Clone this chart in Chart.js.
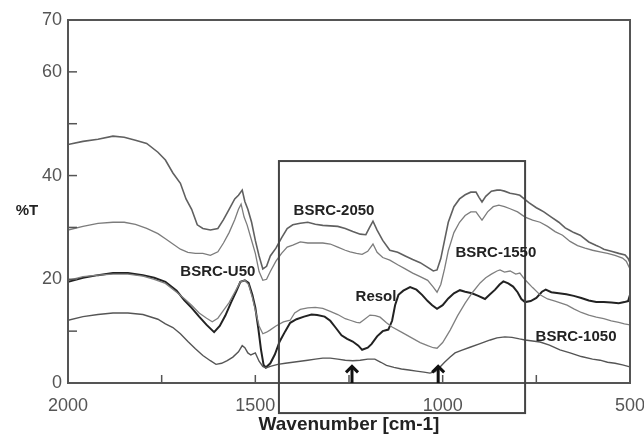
<!DOCTYPE html>
<html>
<head>
<meta charset="utf-8">
<script src="https://cdn.jsdelivr.net/npm/chart.js@4.4.1/dist/chart.umd.min.js"></script>
<style>
  html, body { margin: 0; padding: 0; background: #fff; }
  #wrap { width: 644px; height: 437px; }
</style>
</head>
<body>
<div id="wrap"><canvas id="myChart" width="644" height="437"></canvas></div>
<script>
// wavenumber (cm-1) / %T pairs
var wn2050 = [2000,1960,1920,1880,1850,1820,1790,1760,1740,1720,1700,1685,1670,1655,1640,1620,1600,1585,1570,1555,1545,1535,1528,1520,1510,1500,1490,1480,1470,1460,1445,1430,1415,1400,1380,1360,1340,1320,1300,1280,1260,1240,1220,1205,1195,1186,1175,1160,1141,1120,1100,1080,1060,1040,1025,1015,1005,995,985,970,955,940,925,911,903,895,885,870,855,847,835,820,805,794,770,750,740,730,710,690,673,660,650,633,610,590,580,570,550,530,513,505,500];
var t2050  = [46,46.6,47,47.6,47.4,46.8,46.2,44.5,43,40.5,38.5,35.5,33.5,30.5,29.8,29.5,29.8,31.5,33.5,35.5,36.2,37.2,35,33.5,31,27.5,24.5,22,22.5,24.5,26,28,29.8,30.5,30.8,31,30.6,30.4,30.3,30.2,29.8,29.2,28.7,28.6,30,31.2,29.5,27.5,25.6,25.2,24.5,23.8,23.2,22.3,21.6,21.8,24,27.5,31,34,35.5,36.3,36.8,36.8,35.8,34.9,36,37,37.2,37.2,37,36.6,36.4,36.2,34.8,33.8,33.4,33,32,31,29.9,29.4,29,28.5,27.2,26.5,26.2,25.8,25.4,25,24.7,24,23.2];

var wn1550 = [2000,1960,1920,1880,1850,1820,1790,1760,1740,1720,1700,1680,1660,1640,1620,1600,1585,1570,1555,1545,1538,1530,1522,1512,1500,1490,1480,1470,1460,1445,1430,1415,1400,1380,1360,1340,1320,1300,1280,1260,1247,1230,1215,1200,1186,1175,1160,1141,1120,1100,1080,1060,1040,1025,1015,1005,995,985,970,955,940,925,911,903,895,880,865,850,835,820,800,780,760,740,720,700,680,660,640,620,600,580,560,540,520,510,500];
var t1550  = [29.5,30.2,30.8,31,31,30.6,29.8,28.8,27.8,26.8,25.8,25.2,25,25,24.6,25.3,27,29,31.5,33.5,34.5,32,30.5,28,25,21.5,19.8,20,21.5,23.5,25,26.2,26.6,27.2,27,27,27,26.8,26.2,25.6,25.3,25,24.8,25.4,26.8,25.2,24.2,23.7,22.8,22,21.2,20.5,19.8,18.5,17.5,19,22,25.5,29,31,32.3,33,33,32.2,31.4,33,34,34.3,34,33.6,33,32,31.4,31,30.2,29.2,28.5,27.3,26.5,26,25.6,25.3,25,24.6,24.1,23.5,22];

var wnU50 = [2000,1960,1920,1880,1840,1800,1770,1740,1710,1690,1670,1650,1630,1615,1600,1585,1570,1555,1540,1528,1518,1508,1500,1490,1480,1470,1461,1445,1425,1407,1395,1380,1360,1340,1320,1300,1280,1260,1247,1230,1221,1210,1194,1180,1167,1150,1135,1110,1085,1060,1040,1025,1015,1000,990,980,960,940,920,900,885,870,855,847,835,820,805,794,780,760,740,720,700,680,668,650,630,610,590,570,550,530,515,500];
var tU50  = [19.8,20.5,20.8,21,21,20.6,20,19.2,17.5,16.3,15,13.5,12.5,11.8,12.5,14,15.5,17.5,19.5,19.8,19,16.5,14,11,9.5,9.8,10.2,11,11.8,12.1,13.5,14.2,14.5,14.6,14.4,13.8,13.2,12.4,12.1,11.7,11.6,12.2,13.1,13,12.7,11.6,10.8,9.8,8.8,7.8,7.2,6.8,6.7,7.8,9,10.2,13,15.4,17.5,19.3,20.3,21,21.6,21.8,21.4,21.6,21,21.2,19.9,18.4,17,16.2,15.8,15.3,15,14.3,13.6,13.1,12.7,12.4,12,11.7,11.4,11.2];

var wnResol = [2000,1960,1920,1880,1840,1800,1770,1740,1710,1690,1670,1650,1630,1610,1595,1580,1565,1550,1540,1528,1518,1508,1500,1492,1485,1478,1472,1460,1448,1435,1420,1407,1390,1370,1350,1335,1315,1300,1287,1270,1255,1240,1225,1215,1200,1190,1175,1160,1145,1135,1127,1118,1105,1087,1070,1055,1040,1028,1015,1000,985,970,954,940,922,905,887,875,860,848,838,825,812,800,790,780,765,750,735,725,710,690,670,650,630,610,590,570,550,530,515,505,500];
var tResol  = [19.5,20.3,20.8,21.2,21.2,20.8,20.3,19.5,17.8,16,14.5,12.8,11.2,9.8,11,13,15.5,17.8,19.5,19.8,19.3,17,14.5,10.5,6.5,3.5,3,3.8,5.5,8,10,11.6,12.3,12.8,13.2,13.1,12.8,12,10.8,9.2,8.5,8,7.2,6.4,6.8,7.5,9,10,10.3,12,15,17,17.8,18.5,18,17,15.8,15,14.3,15,16.3,17.3,17.9,17.6,17.3,16.8,16.2,17,18,19,19.6,19.2,18.6,17.5,16.2,15.6,15.8,16.4,17.6,18,17.5,17.3,17.1,16.8,16.4,15.9,15.6,15.6,15.5,15.4,15.6,15.8,17];

var wn1050 = [2000,1960,1920,1880,1840,1800,1760,1740,1720,1700,1680,1660,1640,1620,1605,1590,1575,1560,1545,1535,1528,1520,1512,1500,1490,1480,1472,1460,1440,1420,1400,1380,1360,1340,1320,1300,1280,1260,1240,1220,1200,1181,1165,1150,1130,1110,1090,1070,1050,1034,1020,1007,995,980,967,950,927,900,873,855,834,815,795,780,760,740,715,687,660,630,600,580,560,540,520,500];
var t1050  = [12.1,12.8,13.2,13.5,13.5,13.2,12.3,11.4,10.7,9.5,8,6.6,5.3,4.3,3.6,3.8,4.3,5,6,7.2,6.8,5.8,5.4,5.8,4.2,3.2,2.9,3.2,3.6,3.8,4,4.2,4.4,4.6,4.8,4.8,4.6,4.4,4.3,4.4,4.6,4.6,4,3.4,3,2.7,2.5,2.3,2.1,1.9,2.2,3.1,4,5,5.8,6.3,6.9,7.6,8.3,8.7,8.9,8.8,8.5,8.3,8.1,7.9,7.3,6.4,5.8,5.1,4.6,4.4,4,3.8,3.5,3.1];

// text labels on the plot: [text, wavenumber, %T]
var seriesLabels = [
  ["BSRC-2050", 1290, 33.2],
  ["BSRC-1550", 858, 25.0],
  ["BSRC-U50", 1600, 21.4],
  ["Resol", 1178, 16.6],
  ["BSRC-1050", 644, 8.9]
];
var arrowAt = [1242, 1012];
var boxRange = { wnFrom: 1437, wnTo: 780, tTop: 42.8, tBottom: -5.8 };

var yLabels = [0, 20, 40, 60, 70];
var xLabels = [2000, 1500, 1000, 500];

function pts(xs, ys) {
  var out = [];
  for (var i = 0; i < xs.length; i++) out.push({ x: xs[i], y: ys[i] });
  return out;
}

var extras = {
  id: 'extras',
  afterDatasetsDraw: function(chart) {
    var c = chart.ctx, a = chart.chartArea;
    var xs = chart.scales.x, ys = chart.scales.y;
    c.save();
    // frame
    c.strokeStyle = '#555';
    c.lineWidth = 2;
    c.strokeRect(a.left, a.top, a.right - a.left, a.bottom - a.top);
    // inner tick marks
    c.lineWidth = 1.5;
    for (var v = 10; v < 70; v += 10) {
      var py = ys.getPixelForValue(v);
      c.beginPath(); c.moveTo(a.left, py); c.lineTo(a.left + 9, py); c.stroke();
    }
    for (var w = 750; w < 2000; w += 250) {
      var px = xs.getPixelForValue(w);
      c.beginPath(); c.moveTo(px, a.bottom); c.lineTo(px, a.bottom - 8); c.stroke();
    }
    // highlight box
    var bx1 = xs.getPixelForValue(boxRange.wnFrom), bx2 = xs.getPixelForValue(boxRange.wnTo);
    var by1 = ys.getPixelForValue(boxRange.tTop), by2 = ys.getPixelForValue(boxRange.tBottom);
    c.strokeStyle = '#444';
    c.lineWidth = 2;
    c.strokeRect(bx1, by1, bx2 - bx1, by2 - by1);
    // arrows
    c.strokeStyle = '#111';
    c.lineWidth = 3;
    arrowAt.forEach(function(w) {
      var px = xs.getPixelForValue(w);
      var y0 = ys.getPixelForValue(0), y1 = ys.getPixelForValue(3.2);
      c.beginPath(); c.moveTo(px, y0); c.lineTo(px, y1); c.stroke();
      c.beginPath(); c.moveTo(px - 6, y1 + 6); c.lineTo(px, y1); c.lineTo(px + 6, y1 + 6); c.stroke();
    });
    // labels
    c.fillStyle = '#222';
    c.font = 'bold 15px "Liberation Sans", Arial, sans-serif';
    c.textAlign = 'center';
    c.textBaseline = 'middle';
    seriesLabels.forEach(function(l) {
      c.fillText(l[0], xs.getPixelForValue(l[1]), ys.getPixelForValue(l[2]));
    });
    c.fillText('%T', 27, ys.getPixelForValue(33.2));
    c.restore();
  }
};

var ctx = document.getElementById("myChart");
var myChart = new Chart(ctx, {
  type: 'line',
  data: {
    datasets: [
      { label: "BSRC-2050", data: pts(wn2050, t2050), borderColor: "#606060", borderWidth: 1.6 },
      { label: "BSRC-1550", data: pts(wn1550, t1550), borderColor: "#7c7c7c", borderWidth: 1.3 },
      { label: "BSRC-U50", data: pts(wnU50, tU50), borderColor: "#808080", borderWidth: 1.3 },
      { label: "BSRC-1050", data: pts(wn1050, t1050), borderColor: "#555", borderWidth: 1.4 },
      { label: "Resol", data: pts(wnResol, tResol), borderColor: "#222", borderWidth: 2 }
    ]
  },
  options: {
    responsive: false,
    animation: false,
    devicePixelRatio: 1,
    elements: { point: { radius: 0 }, line: { tension: 0, fill: false } },
    layout: { padding: { top: 20, right: 14, left: 0, bottom: 0 } },
    plugins: { legend: { display: false }, tooltip: { enabled: false } },
    scales: {
      x: {
        type: 'linear',
        reverse: true,
        min: 500,
        max: 2000,
        grid: { display: false, drawTicks: false },
        border: { display: false },
        ticks: {
          stepSize: 250,
          maxRotation: 0,
          padding: 12,
          color: '#555',
          font: { family: '"Liberation Sans", Arial, sans-serif', size: 18 },
          callback: function(v) { return xLabels.indexOf(v) >= 0 ? String(v) : ''; }
        },
        title: {
          display: true,
          text: 'Wavenumber [cm-1]',
          color: '#222',
          font: { family: '"Liberation Sans", Arial, sans-serif', size: 19, weight: 'bold' },
          padding: { top: 0, bottom: 1 }
        },
        afterFit: function(s) { s.height = 54; s.paddingLeft = 0; s.paddingRight = 0; }
      },
      y: {
        min: 0,
        max: 70,
        grid: { display: false, drawTicks: false },
        border: { display: false },
        ticks: {
          stepSize: 10,
          padding: 6,
          color: '#555',
          font: { family: '"Liberation Sans", Arial, sans-serif', size: 18 },
          callback: function(v) { return yLabels.indexOf(v) >= 0 ? String(v) : ''; }
        },
        afterFit: function(s) { s.width = 68; s.paddingTop = 0; s.paddingBottom = 0; }
      }
    }
  },
  plugins: [extras]
});
</script>
</body>
</html>
